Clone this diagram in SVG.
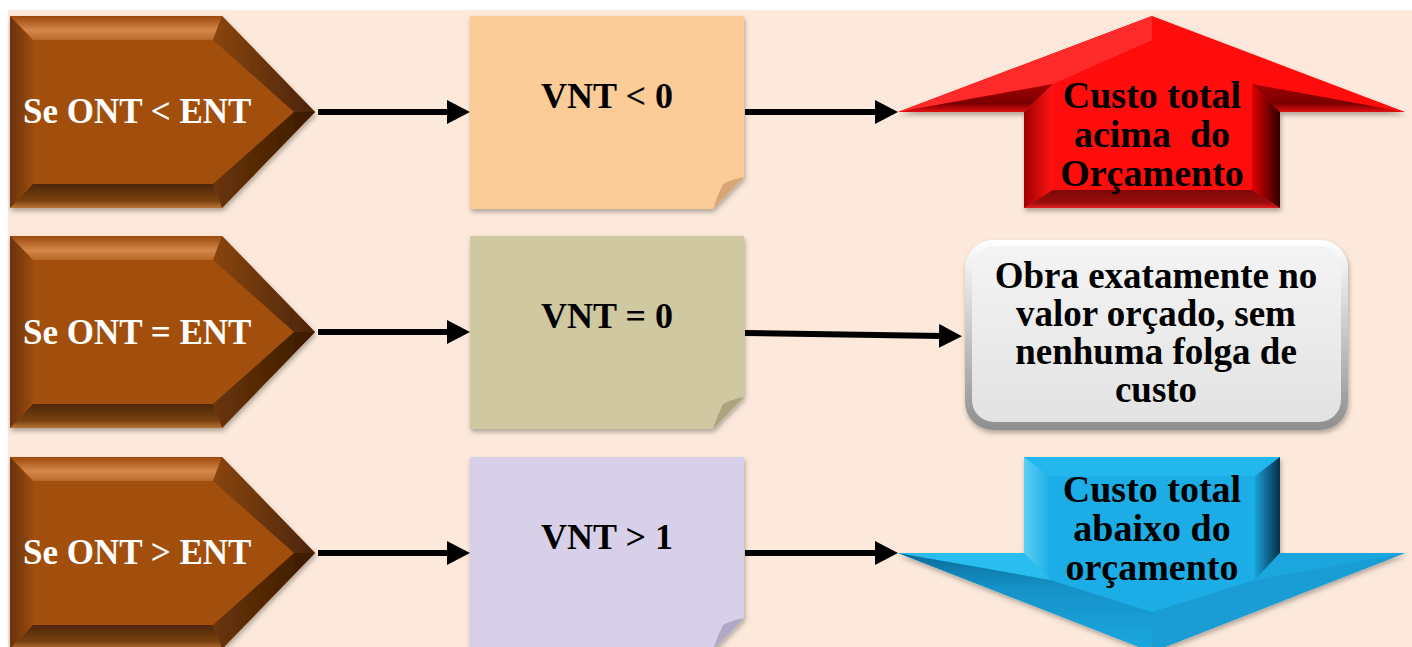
<svg xmlns="http://www.w3.org/2000/svg" xmlns:xlink="http://www.w3.org/1999/xlink" width="1412" height="647" viewBox="0 0 1412 647">
<style>
.lbl{font-family:"Liberation Serif","Times New Roman",serif;font-weight:bold;}
.wt{fill:#ffffff;font-size:35px;}
.bk{fill:#000000;}
.vnt{font-size:36px;}
.big{font-size:38px;}
.box{font-size:37px;}
.pre{white-space:pre;}
.conn{stroke:#000;stroke-width:6;fill:none;}
</style>
<defs>
<filter id="sh" x="-10%" y="-10%" width="120%" height="125%">
<feDropShadow dx="1" dy="3" stdDeviation="2.5" flood-color="#000" flood-opacity="0.3"/>
</filter>
<marker id="ah" viewBox="0 0 23 24" refX="3" refY="12" markerWidth="23" markerHeight="24" markerUnits="userSpaceOnUse" orient="auto">
<path d="M0,0 L23,12 L0,24 z" fill="#000"/>
</marker>
<linearGradient id="chTop" x1="0" y1="0" x2="0" y2="1">
<stop offset="0" stop-color="#9C4A0E"/><stop offset="0.6" stop-color="#D4874A"/><stop offset="1" stop-color="#B8692A"/>
</linearGradient>
<linearGradient id="chLeft" x1="0" y1="0" x2="1" y2="0">
<stop offset="0" stop-color="#6A3308"/><stop offset="1" stop-color="#9C4C10"/>
</linearGradient>
<linearGradient id="chRU" x1="0" y1="0" x2="1" y2="0">
<stop offset="0" stop-color="#8A4510"/><stop offset="1" stop-color="#4A2406"/>
</linearGradient>
<linearGradient id="chRL" x1="0" y1="0" x2="1" y2="0">
<stop offset="0" stop-color="#6A3508"/><stop offset="1" stop-color="#3A1A03"/>
</linearGradient>
<linearGradient id="chBot" x1="0" y1="0" x2="0" y2="1">
<stop offset="0" stop-color="#4E2606"/><stop offset="0.7" stop-color="#7A4212"/><stop offset="1" stop-color="#B87436"/>
</linearGradient>
<g id="chev">
<polygon points="10,16 222,16 315,112 222,208 10,208" fill="#A24F0C"/>
<polygon points="10,16 222,16 213,40 33,40" fill="url(#chTop)"/>
<polygon points="10,16 33,40 33,184 10,208" fill="url(#chLeft)"/>
<polygon points="222,16 315,112 294,112 213,40" fill="url(#chRU)"/>
<polygon points="315,112 222,208 213,184 294,112" fill="url(#chRL)"/>
<polygon points="10,208 222,208 213,184 33,184" fill="url(#chBot)"/>
</g>
<linearGradient id="redShaftL" x1="0" y1="0" x2="1" y2="0">
<stop offset="0" stop-color="#A00000"/><stop offset="1" stop-color="#FF1414"/>
</linearGradient>
<linearGradient id="redShaftR" x1="0" y1="0" x2="1" y2="0">
<stop offset="0" stop-color="#E00000"/><stop offset="1" stop-color="#300000"/>
</linearGradient>
<linearGradient id="redBot" x1="0" y1="0" x2="0" y2="1">
<stop offset="0" stop-color="#7E0808"/><stop offset="0.7" stop-color="#9A0C0C"/><stop offset="1" stop-color="#E02020"/>
</linearGradient>
<linearGradient id="redWing" x1="0" y1="0" x2="0" y2="1">
<stop offset="0" stop-color="#A00000"/><stop offset="0.7" stop-color="#7A0000"/><stop offset="1" stop-color="#E01010"/>
</linearGradient>
<linearGradient id="blueL" x1="0" y1="0" x2="1" y2="0">
<stop offset="0" stop-color="#5ED0F5"/><stop offset="1" stop-color="#1AAEE6"/>
</linearGradient>
<linearGradient id="blueR" x1="0" y1="0" x2="1" y2="0">
<stop offset="0" stop-color="#1AA0D8"/><stop offset="1" stop-color="#062F47"/>
</linearGradient>
<linearGradient id="blueLow" x1="0" y1="0" x2="0" y2="1">
<stop offset="0" stop-color="#0B6C98"/><stop offset="0.35" stop-color="#1592C8"/><stop offset="1" stop-color="#1BA8E0"/>
</linearGradient>
<linearGradient id="grayOut" x1="0" y1="0" x2="0" y2="1">
<stop offset="0" stop-color="#FFFFFF"/><stop offset="1" stop-color="#8E8E8E"/>
</linearGradient>
<linearGradient id="grayIn" x1="0" y1="0" x2="0" y2="1">
<stop offset="0" stop-color="#F4F4F4"/><stop offset="1" stop-color="#E2E2E2"/>
</linearGradient>
</defs>

<rect x="0" y="0" width="1412" height="647" fill="#FFFFFF"/>
<rect x="8" y="10" width="1404" height="637" fill="#FCE9DB"/>

<g id="cond1">
<use xlink:href="#chev" filter="url(#sh)"/>
<text class="lbl wt" x="23" y="123">Se ONT &lt; ENT</text>
</g>
<g id="cond2">
<use xlink:href="#chev" transform="translate(0,220)" filter="url(#sh)"/>
<text class="lbl wt" x="23" y="344">Se ONT = ENT</text>
</g>
<g id="cond3">
<use xlink:href="#chev" transform="translate(0,441)" filter="url(#sh)"/>
<text class="lbl wt" x="23" y="564">Se ONT &gt; ENT</text>
</g>

<g id="note1">
<polygon points="470,16 744,16 744,177 713,209 470,209" fill="#FBCB98" filter="url(#sh)"/>
<path d="M744,177 Q730,180 723,184 Q717,196 713,209 z" fill="#D8A676"/>
<text class="lbl bk vnt" x="607" y="108" text-anchor="middle">VNT &lt; 0</text>
</g>
<g id="note2">
<polygon points="470,236 744,236 744,397 713,429 470,429" fill="#CFC8A1" filter="url(#sh)"/>
<path d="M744,397 Q730,400 723,404 Q717,416 713,429 z" fill="#ACA47E"/>
<text class="lbl bk vnt" x="607" y="328" text-anchor="middle">VNT = 0</text>
</g>
<g id="note3">
<polygon points="470,457 744,457 744,618 713,650 470,650" fill="#D8D0E8" filter="url(#sh)"/>
<path d="M744,618 Q730,621 723,625 Q717,637 713,650 z" fill="#B0A8C6"/>
<text class="lbl bk vnt" x="607" y="549" text-anchor="middle">VNT &gt; 1</text>
</g>

<g id="result1">
<polygon points="1152,16 1405,112 1280,112 1280,208 1024,208 1024,112 898,112" fill="#FF0A0A" filter="url(#sh)"/>
<polygon points="1152,16 898,112 1053,84 1152,40" fill="#FF2A2A"/>
<polygon points="898,112 1053,84 1024,112" fill="url(#redWing)"/>
<polygon points="1405,112 1252,84 1280,112" fill="url(#redWing)"/>
<polygon points="1024,112 1053,84 1053,190 1024,208" fill="url(#redShaftL)"/>
<polygon points="1280,112 1252,84 1252,190 1280,208" fill="url(#redShaftR)"/>
<polygon points="1024,208 1053,190 1252,190 1280,208" fill="url(#redBot)"/>
<text class="lbl bk big pre" text-anchor="middle" xml:space="preserve"><tspan x="1152" y="108">Custo total</tspan><tspan x="1152" y="147">acima  do</tspan><tspan x="1152" y="186">Orçamento</tspan></text>
</g>

<g id="result2">
<rect x="965" y="240" width="383" height="190" rx="28" fill="url(#grayOut)" filter="url(#sh)"/>
<rect x="972" y="246" width="369" height="176" rx="22" fill="url(#grayIn)"/>
<text class="lbl bk box" text-anchor="middle"><tspan x="1156" y="288">Obra exatamente no</tspan><tspan x="1156" y="326">valor orçado, sem</tspan><tspan x="1156" y="364">nenhuma folga de</tspan><tspan x="1156" y="402">custo</tspan></text>
</g>

<g id="result3">
<polygon points="1024,457 1280,457 1280,553 1405,553 1152,652 898,553 1024,553" fill="#1AADE6" filter="url(#sh)"/>
<polygon points="1024,457 1280,457 1255,476 1050,476" fill="#22B8EE"/>
<polygon points="1024,457 1050,476 1050,580 1024,553" fill="url(#blueL)"/>
<polygon points="1280,457 1255,476 1255,580 1280,553" fill="url(#blueR)"/>
<polygon points="898,553 1024,553 1050,580" fill="#2ABEF0"/>
<polygon points="1405,553 1280,553 1255,580" fill="#1CA6DE"/>
<polygon points="898,553 1050,580 1152,612 1152,652" fill="url(#blueLow)"/>
<polygon points="1405,553 1255,580 1152,612 1152,652" fill="#1A9DD4"/>
<text class="lbl bk big" text-anchor="middle"><tspan x="1152" y="502">Custo total</tspan><tspan x="1152" y="541">abaixo do</tspan><tspan x="1152" y="580">orçamento</tspan></text>
</g>

<g id="connectors">
<line class="conn" x1="318" y1="112" x2="450" y2="112" marker-end="url(#ah)"/>
<line class="conn" x1="745" y1="112" x2="878" y2="112" marker-end="url(#ah)"/>
<line class="conn" x1="318" y1="332" x2="450" y2="332" marker-end="url(#ah)"/>
<line class="conn" x1="745" y1="333" x2="942" y2="336" marker-end="url(#ah)"/>
<line class="conn" x1="318" y1="553" x2="450" y2="553" marker-end="url(#ah)"/>
<line class="conn" x1="745" y1="553" x2="878" y2="553" marker-end="url(#ah)"/>
</g>
</svg>
